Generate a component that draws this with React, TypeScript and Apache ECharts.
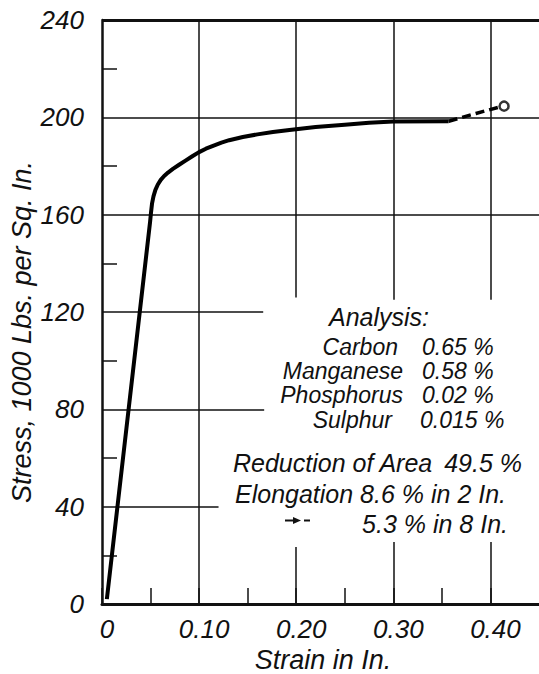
import React, { useEffect, useRef } from 'react';
import * as echarts from 'echarts';

// Stress-strain curve (solid, 2 in. gauge)
const strain = [0.005, 0.0495, 0.0505, 0.0515, 0.053, 0.055, 0.0575, 0.0605, 0.064, 0.068, 0.073, 0.079, 0.086, 0.093, 0.0995, 0.107, 0.115, 0.123, 0.131, 0.145, 0.16, 0.176, 0.193, 0.22, 0.25, 0.275, 0.30, 0.357];
const stress = [2, 157, 161, 164.5, 167.5, 170.2, 172.4, 174.3, 175.9, 177.3, 178.8, 180.4, 182.2, 184, 185.6, 187.1, 188.4, 189.6, 190.6, 191.9, 193, 194, 194.8, 196, 197, 197.8, 198.3, 198.4];
// Dashed continuation (8 in. gauge) and fracture point
const dashStrain = [0.357, 0.385, 0.411];
const dashStress = [198.4, 201.6, 204.4];
const fracturePoint = [0.414, 204.6];

// Axis ticks
const xLabelValues = [0, 0.1, 0.2, 0.3, 0.4];
const yTickValues = [0, 40, 80, 120, 160, 200, 240];

// Partial grid lines in data units: [stress, strainFrom, strainTo]
const hGrid: [number, number, number][] = [
  [40, 0, 0.12], [80, 0, 0.167], [120, 0, 0.166], [160, 0, 0.45], [200, 0, 0.45],
];
// [strain, stressFrom, stressTo]
const vGrid: [number, number, number][] = [
  [0.1, 0, 240], [0.2, 0, 23.4], [0.2, 126, 240], [0.3, 0, 25.5], [0.3, 125, 240], [0.4, 0, 25.5], [0.4, 125, 240],
];

const analysisTitle = 'Analysis:';
const analysisNames = ['Carbon', 'Manganese', 'Phosphorus', 'Sulphur'];
const analysisValues = ['0.65 %', '0.58 %', '0.02 %', '0.015 %'];
const reductionLabel = 'Reduction of Area';
const reductionValue = '49.5 %';
const elongation2 = 'Elongation 8.6 % in 2 In.';
const elongation8 = '5.3 % in 8 In.';
const xName = 'Strain in In.';
const yName = 'Stress, 1000 Lbs. per Sq. In.';

const INK = '#111';
const FONT = '"Liberation Sans", Arial, sans-serif';

export default function App() {
  const ref = useRef<HTMLDivElement>(null);
  useEffect(() => {
    if (!ref.current) return;
    const chart = echarts.init(ref.current, undefined, { renderer: 'svg' });
    const txt = (text: string, x: number, y: number, align: string, size = 25, extra: any = {}) => ({
      type: 'text',
      x,
      y,
      ...extra,
      style: {
        text,
        fill: INK,
        font: `italic ${size}px ${FONT}`,
        align,
        verticalAlign: 'middle',
        textAlign: align,
        textVerticalAlign: 'middle',
      },
    });
    const nameX = [398, 403, 403, 392];
    const baseY = [355, 379, 403, 428];
    const graphics: any[] = [
      txt(analysisTitle, 379, 326 - 9, 'center', 25),
      ...analysisNames.map((n, i) => txt(n, nameX[i], baseY[i] - 8, 'right', 23)),
      ...analysisValues.map((v, i) => txt(v, i === 3 ? 420 : 422, baseY[i] - 8, 'left', 23)),
      txt(reductionLabel, 233, 472 - 9, 'left'),
      txt(reductionValue, 522, 472 - 9, 'right'),
      txt(elongation2, 235, 503 - 9, 'left'),
      txt(elongation8, 508, 533 - 9, 'right'),
      txt(xName, 323, 660, 'center', 27),
      txt(yName, 22, 332, 'center', 27, { rotation: Math.PI / 2 }),
      { type: 'line', shape: { x1: 285, y1: 520.5, x2: 295, y2: 520.5 }, style: { stroke: INK, lineWidth: 2 } },
      { type: 'polygon', shape: { points: [[293, 517], [301, 520.5], [293, 524]] }, style: { fill: INK } },
      { type: 'line', shape: { x1: 304, y1: 520.5, x2: 310, y2: 520.5 }, style: { stroke: INK, lineWidth: 2 } },
    ];

    const gridLineData: any[] = [
      ...hGrid.map(([y, x1, x2]) => [{ coord: [x1, y] }, { coord: [x2, y] }]),
      ...vGrid.map(([x, y1, y2]) => [{ coord: [x, y1] }, { coord: [x, y2] }]),
      [
        { coord: [0, 240], lineStyle: { width: 3, color: INK, type: 'solid' } },
        { coord: [0.45, 240] },
      ],
    ];

    chart.setOption({
      animation: false,
      backgroundColor: '#fff',
      grid: { left: 102, top: 20, right: 0, bottom: 70 },
      xAxis: {
        type: 'value',
        min: 0,
        max: 0.45,
        interval: 0.05,
        axisLine: { show: true, onZero: false, lineStyle: { color: INK, width: 3 } },
        axisTick: { show: true, inside: true, length: 16, lineStyle: { color: INK, width: 1.5 } },
        splitLine: { show: false },
        axisLabel: {
          color: INK,
          fontSize: 26,
          fontStyle: 'italic',
          fontFamily: FONT,
          margin: 12,
          padding: [0, 0, 0, 10],
          showMaxLabel: false,
          formatter: (v: number) => {
            const hit = xLabelValues.find((t) => Math.abs(t - v) < 1e-6);
            if (hit === undefined) return '';
            return hit === 0 ? '0' : hit.toFixed(2);
          },
        },
      },
      yAxis: {
        type: 'value',
        min: 0,
        max: 240,
        interval: 40,
        axisLine: { show: true, onZero: false, lineStyle: { color: INK, width: 2.5 } },
        axisTick: { show: false, inside: true },
        minorTick: { show: true, splitNumber: 2, length: 15, lineStyle: { color: INK, width: 1.5 } },
        splitLine: { show: false },
        axisLabel: {
          color: INK,
          fontSize: 26,
          fontStyle: 'italic',
          fontFamily: FONT,
          margin: 18,
          formatter: (v: number) => (yTickValues.includes(v) ? String(v) : ''),
        },
      },
      series: [
        {
          type: 'line',
          data: strain.map((s, i) => [s, stress[i]]),
          symbol: 'none',
          smooth: false,
          lineStyle: { color: '#000', width: 4, join: 'round' },
          z: 5,
          markLine: {
            silent: true,
            symbol: 'none',
            label: { show: false },
            lineStyle: { color: INK, width: 1.5, type: 'solid' },
            data: gridLineData,
            z: 2,
          },
        },
        {
          type: 'line',
          data: dashStrain.map((s, i) => [s, dashStress[i]]),
          symbol: 'none',
          lineStyle: { color: '#000', width: 3.5, type: [9, 5] },
          z: 5,
        },
        {
          type: 'scatter',
          data: [fracturePoint],
          symbol: 'circle',
          symbolSize: 9,
          itemStyle: { color: '#fff', borderColor: '#000', borderWidth: 2.5 },
          z: 6,
        },
      ],
      graphic: graphics,
    });
    return () => chart.dispose();
  }, []);
  return (
    <div
      ref={ref}
      style={{ position: 'fixed', left: 0, top: 0, width: 539, height: 674, background: '#fff' }}
    />
  );
}
